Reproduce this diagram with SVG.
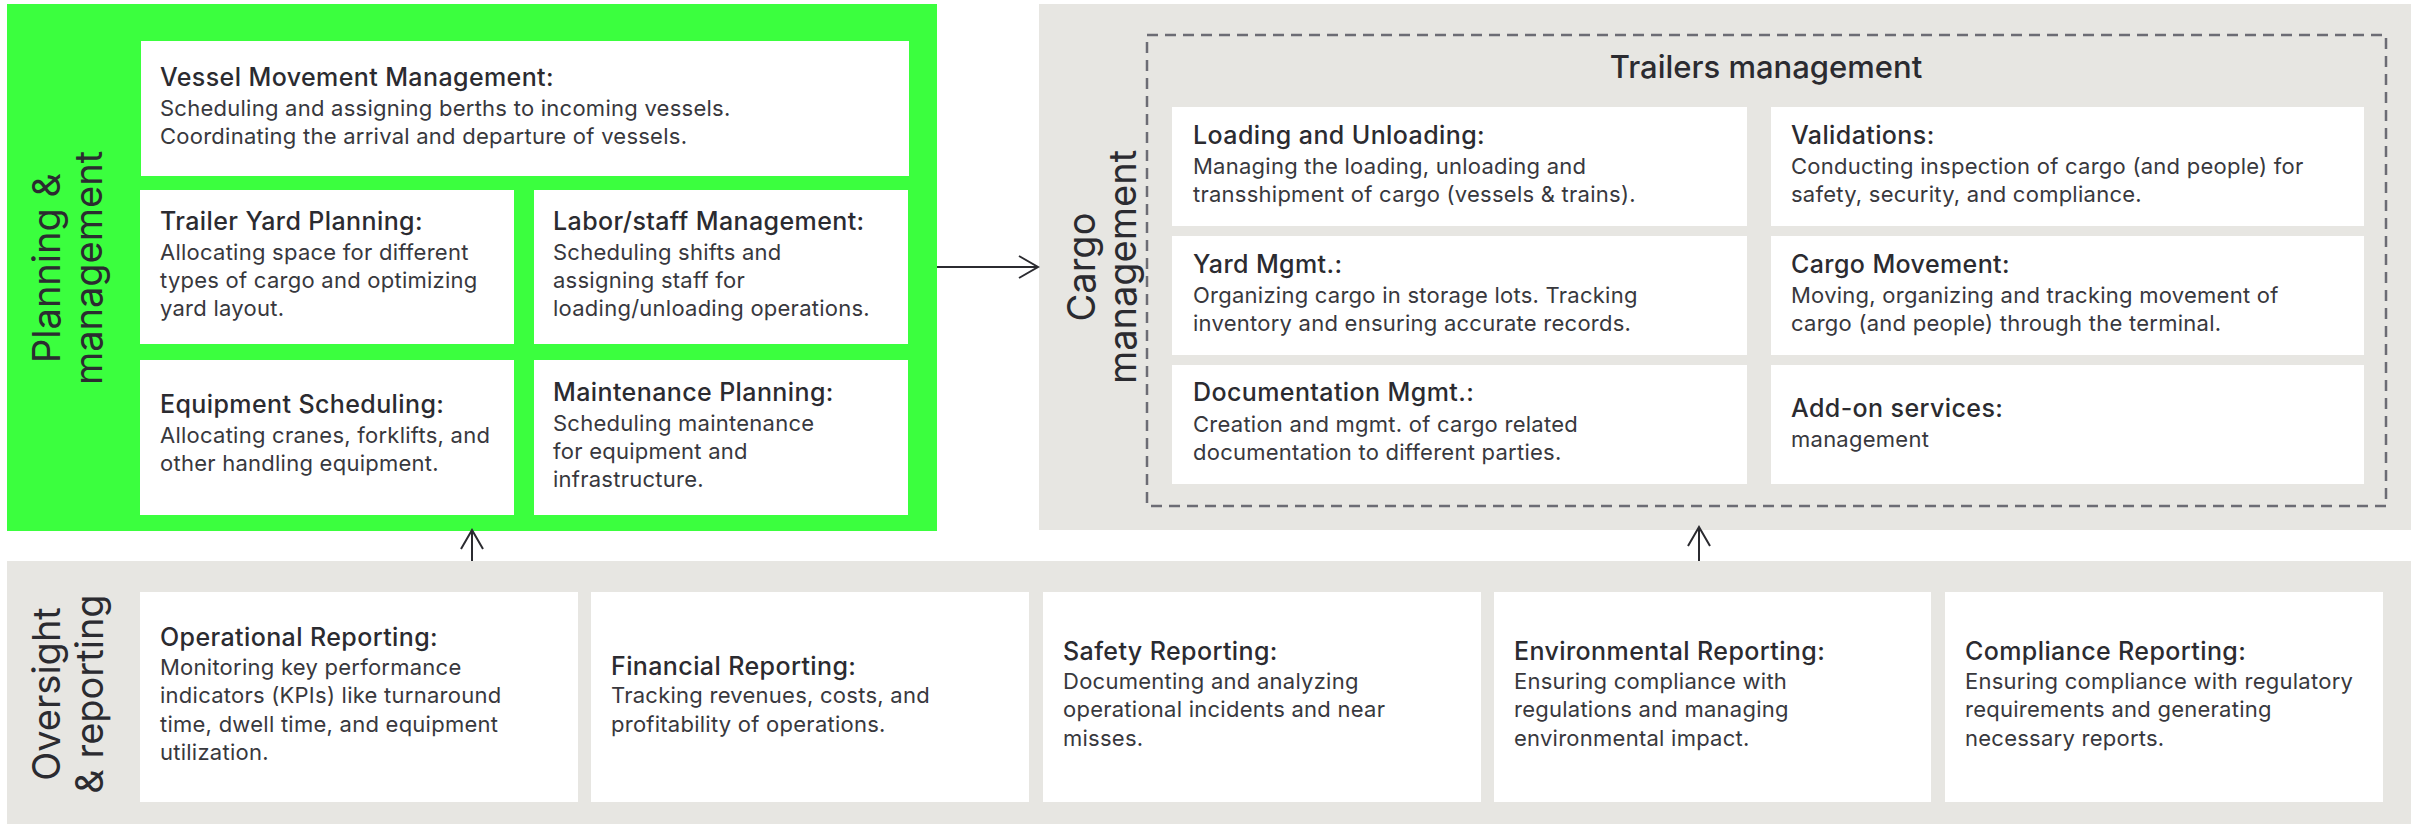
<svg xmlns="http://www.w3.org/2000/svg" width="2417" height="825" viewBox="0 0 2417 825">
<defs>
<style>
.bg{fill:#ffffff}
.green{fill:#3bff3e}
.gray{fill:#e7e6e2}
.card{fill:#ffffff}
.dash{fill:none;stroke:#6c6c74;stroke-width:2.5;stroke-dasharray:11 7}
text{font-family:Inter,"Liberation Sans",sans-serif;fill:#2b2b30}
.t{font-size:25px;font-weight:500;letter-spacing:0.4px}
.b{font-size:22px;font-weight:400;letter-spacing:0.25px;fill:#38383d}
.side{font-size:38px;font-weight:400}
.sub{font-size:31px;font-weight:500;text-anchor:middle}
.conn{fill:none;stroke:#2b2b30;stroke-width:2}
</style>
<marker id="arr" markerUnits="userSpaceOnUse" viewBox="-21 -13 23 26" refX="0" refY="0" markerWidth="23" markerHeight="26" orient="auto">
<path d="M-19,-11 L0,0 L-19,11" fill="none" stroke="#2b2b30" stroke-width="2"/>
</marker>
</defs>
<rect class="bg" x="0" y="0" width="2417" height="825"/>

<g id="planning">
<rect class="green" x="7" y="4" width="930" height="527"/>
<text class="side" transform="translate(60,268) rotate(-90)" text-anchor="middle">Planning &amp;</text>
<text class="side" transform="translate(102,268) rotate(-90)" text-anchor="middle">management</text>
</g>
<g id="vessel">
<rect class="card" x="141" y="41" width="768" height="135"/>
<text class="t" x="160" y="86">Vessel Movement Management:</text>
<text class="b" x="160" y="116">Scheduling and assigning berths to incoming vessels.</text>
<text class="b" x="160" y="144">Coordinating the arrival and departure of vessels.</text>
</g>
<g id="trailer-yard">
<rect class="card" x="140" y="190" width="374" height="154"/>
<text class="t" x="160" y="230">Trailer Yard Planning:</text>
<text class="b" x="160" y="260">Allocating space for different</text>
<text class="b" x="160" y="288">types of cargo and optimizing</text>
<text class="b" x="160" y="316">yard layout.</text>
</g>
<g id="labor">
<rect class="card" x="534" y="190" width="374" height="154"/>
<text class="t" x="553" y="230">Labor/staff Management:</text>
<text class="b" x="553" y="260">Scheduling shifts and</text>
<text class="b" x="553" y="288">assigning staff for</text>
<text class="b" x="553" y="316">loading/unloading operations.</text>
</g>
<g id="equipment">
<rect class="card" x="140" y="360" width="374" height="155"/>
<text class="t" x="160" y="413">Equipment Scheduling:</text>
<text class="b" x="160" y="443">Allocating cranes, forklifts, and</text>
<text class="b" x="160" y="471">other handling equipment.</text>
</g>
<g id="maintenance">
<rect class="card" x="534" y="360" width="374" height="155"/>
<text class="t" x="553" y="401">Maintenance Planning:</text>
<text class="b" x="553" y="431">Scheduling maintenance</text>
<text class="b" x="553" y="459">for equipment and</text>
<text class="b" x="553" y="487">infrastructure.</text>
</g>

<g id="cargo">
<rect class="gray" x="1039" y="4" width="1372" height="526"/>
<text class="side" transform="translate(1095,267) rotate(-90)" text-anchor="middle">Cargo</text>
<text class="side" transform="translate(1136,267) rotate(-90)" text-anchor="middle">management</text>
</g>
<g id="trailers">
<rect class="dash" x="1147" y="35" width="1239" height="471"/>
<text class="sub" x="1766" y="78">Trailers management</text>
</g>
<g id="loading">
<rect class="card" x="1172" y="107" width="575" height="119"/>
<text class="t" x="1193" y="144">Loading and Unloading:</text>
<text class="b" x="1193" y="174">Managing the loading, unloading and</text>
<text class="b" x="1193" y="202">transshipment of cargo (vessels &amp; trains).</text>
</g>
<g id="validations">
<rect class="card" x="1771" y="107" width="593" height="119"/>
<text class="t" x="1791" y="144">Validations:</text>
<text class="b" x="1791" y="174">Conducting inspection of cargo (and people) for</text>
<text class="b" x="1791" y="202">safety, security, and compliance.</text>
</g>
<g id="yard">
<rect class="card" x="1172" y="236" width="575" height="119"/>
<text class="t" x="1193" y="273">Yard Mgmt.:</text>
<text class="b" x="1193" y="303">Organizing cargo in storage lots. Tracking</text>
<text class="b" x="1193" y="331">inventory and ensuring accurate records.</text>
</g>
<g id="cargo-movement">
<rect class="card" x="1771" y="236" width="593" height="119"/>
<text class="t" x="1791" y="273">Cargo Movement:</text>
<text class="b" x="1791" y="303">Moving, organizing and tracking movement of</text>
<text class="b" x="1791" y="331">cargo (and people) through the terminal.</text>
</g>
<g id="documentation">
<rect class="card" x="1172" y="365" width="575" height="119"/>
<text class="t" x="1193" y="401">Documentation Mgmt.:</text>
<text class="b" x="1193" y="432">Creation and mgmt. of cargo related</text>
<text class="b" x="1193" y="460">documentation to different parties.</text>
</g>
<g id="addon">
<rect class="card" x="1771" y="365" width="593" height="119"/>
<text class="t" x="1791" y="417">Add-on services:</text>
<text class="b" x="1791" y="447">management</text>
</g>

<g id="oversight">
<rect class="gray" x="7" y="561" width="2404" height="263"/>
<text class="side" transform="translate(60,694) rotate(-90)" text-anchor="middle">Oversight</text>
<text class="side" transform="translate(103,694) rotate(-90)" text-anchor="middle">&amp; reporting</text>
</g>
<g id="operational">
<rect class="card" x="140" y="592" width="438" height="210"/>
<text class="t" x="160" y="646">Operational Reporting:</text>
<text class="b" x="160" y="675">Monitoring key performance</text>
<text class="b" x="160" y="703">indicators (KPIs) like turnaround</text>
<text class="b" x="160" y="732">time, dwell time, and equipment</text>
<text class="b" x="160" y="760">utilization.</text>
</g>
<g id="financial">
<rect class="card" x="591" y="592" width="438" height="210"/>
<text class="t" x="611" y="675">Financial Reporting:</text>
<text class="b" x="611" y="703">Tracking revenues, costs, and</text>
<text class="b" x="611" y="732">profitability of operations.</text>
</g>
<g id="safety">
<rect class="card" x="1043" y="592" width="438" height="210"/>
<text class="t" x="1063" y="660">Safety Reporting:</text>
<text class="b" x="1063" y="689">Documenting and analyzing</text>
<text class="b" x="1063" y="717">operational incidents and near</text>
<text class="b" x="1063" y="746">misses.</text>
</g>
<g id="environmental">
<rect class="card" x="1494" y="592" width="437" height="210"/>
<text class="t" x="1514" y="660">Environmental Reporting:</text>
<text class="b" x="1514" y="689">Ensuring compliance with</text>
<text class="b" x="1514" y="717">regulations and managing</text>
<text class="b" x="1514" y="746">environmental impact.</text>
</g>
<g id="compliance">
<rect class="card" x="1945" y="592" width="438" height="210"/>
<text class="t" x="1965" y="660">Compliance Reporting:</text>
<text class="b" x="1965" y="689">Ensuring compliance with regulatory</text>
<text class="b" x="1965" y="717">requirements and generating</text>
<text class="b" x="1965" y="746">necessary reports.</text>
</g>

<g id="connectors">
<path class="conn" d="M937,267 L1038,267" marker-end="url(#arr)"/>
<path class="conn" d="M472,561 L472,530" marker-end="url(#arr)"/>
<path class="conn" d="M1699,561 L1699,527" marker-end="url(#arr)"/>
</g>
</svg>
